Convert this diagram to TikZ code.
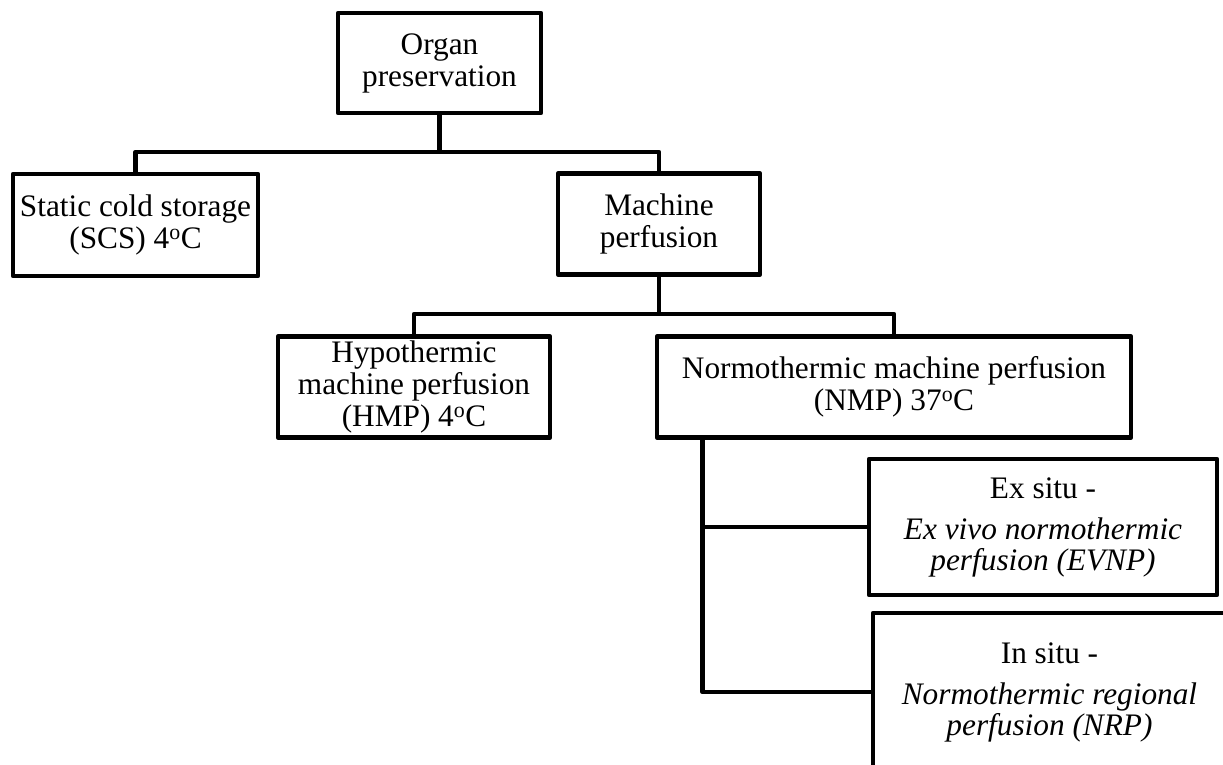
\documentclass[tikz,border=0pt]{standalone}
\usepackage{fontspec}
\setmainfont{Liberation Serif}
\begin{document}
\begin{tikzpicture}[x=1pt,y=-1pt,
  box/.style={draw, line width=4.6pt, line join=round, inner sep=0pt, align=center,
    font=\fontsize{31.3}{32}\selectfont, anchor=center},
  link/.style={draw, line width=4.6pt, line join=round}]
\useasboundingbox (0,0) rectangle (1223,765);
\clip (0,0) rectangle (1223,765);
\node[box, minimum width=203pt, minimum height=100pt] (org) at (439.5,63) {Organ\\preservation};
\node[box, minimum width=245pt, minimum height=102pt] (scs) at (135.5,225) {Static cold storage\\(SCS) 4\textsuperscript{o}C};
\node[box, minimum width=202pt, minimum height=101pt] (mach) at (659,224) {Machine\\perfusion};
\node[box, minimum width=272pt, minimum height=101pt] (hmp) at (414,387) {Hypothermic\\machine perfusion\\(HMP) 4\textsuperscript{o}C};
\node[box, minimum width=474pt, minimum height=101pt] (nmp) at (894,387) {Normothermic machine perfusion\\(NMP) 37\textsuperscript{o}C};
\node[box, minimum width=348pt, minimum height=136pt, font=\fontsize{31.3}{31}\selectfont] (evnp) at (1043,527) {Ex situ -\\[10pt]\textit{Ex vivo normothermic}\\\textit{perfusion (EVNP)}};
\node[box, minimum width=353pt, minimum height=158pt, font=\fontsize{31.3}{31}\selectfont] (nrp) at (1049.5,692) {In situ -\\[10pt]\textit{Normothermic regional}\\\textit{perfusion (NRP)}};
\coordinate (j1) at (439.5,152);
\coordinate (j2) at (659,314);
\coordinate (nt) at ([xshift=48pt]nmp.south west);
\draw[link] (org.south) -- (j1);
\draw[link] (scs.north) |- (j1) -| (mach.north);
\draw[link] (mach.south) -- (j2);
\draw[link] (hmp.north) |- (j2) -| (nmp.north);
\draw[link] (nt) |- (evnp.west);
\draw[link] (nt) |- (nrp.west);
\end{tikzpicture}
\end{document}
